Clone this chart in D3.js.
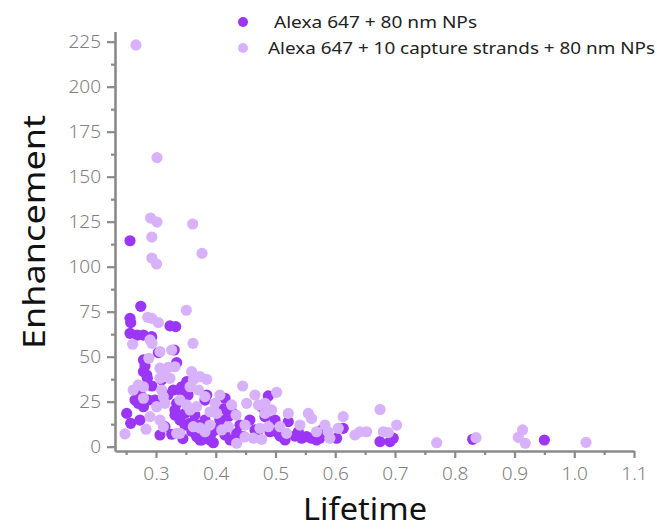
<!DOCTYPE html>
<html>
<head>
<meta charset="utf-8">
<script src="https://cdn.jsdelivr.net/npm/d3@7"></script>
<style>
  html, body { margin: 0; padding: 0; background: #fff; }
  svg { display: block; }
</style>
</head>
<body>
<div id="chart"></div>
<script>
// Fluorescence lifetime vs. enhancement for two sample preparations
const seriesNames = ["Alexa 647 + 80 nm NPs", "Alexa 647 + 10 capture strands + 80 nm NPs"];

const darkLifetime = [
  0.2565, 0.2745, 0.2565, 0.2577, 0.3234, 0.333, 0.2565, 0.2687, 0.279, 0.2928,
  0.304, 0.3305, 0.279, 0.2816, 0.3346, 0.2845, 0.279, 0.2855, 0.3095, 0.3513,
  0.343, 0.329, 0.3849, 0.4155, 0.2704, 0.276, 0.2649, 0.287, 0.2704, 0.279,
  0.3346, 0.3318, 0.251, 0.2577, 0.2732, 0.315, 0.3263, 0.34, 0.3485, 0.357,
  0.368, 0.3765, 0.396, 0.421, 0.435, 0.407, 0.3318, 0.3485, 0.365, 0.382,
  0.3988, 0.4155, 0.424, 0.3736, 0.3067, 0.3536, 0.3904, 0.407, 0.4406, 0.427,
  0.382, 0.37, 0.32, 0.34, 0.2983, 0.2933, 0.36, 0.392, 0.413, 0.345,
  0.488, 0.477, 0.4824, 0.4657, 0.4908, 0.446, 0.502, 0.5214, 0.516, 0.5382,
  0.5438, 0.552, 0.5603, 0.5687, 0.574, 0.6133, 0.6022, 0.6749, 0.6916, 0.697,
  0.83, 0.95, 0.457, 0.47, 0.5075, 0.4992, 0.5326, 0.578
];
const darkEnhancement = [
  114.4, 78, 71.3, 68.9, 67.1, 66.7, 63, 62, 62, 61.1,
  52.3, 53.7, 48.2, 44.8, 46.7, 39.8, 41.7, 38, 37.1, 36.1,
  33.3, 31.5, 28.7, 26.9, 30.6, 27.8, 25.9, 25.9, 24.1, 22.2,
  24.1, 17.6, 18.5, 13, 14.8, 11.1, 6.9, 14.8, 18.5, 13,
  5.6, 3.7, 2.2, 16.7, 7.4, 10.2, 20.4, 12, 17.6, 14.8,
  9.3, 6.5, 3.7, 3.7, 6.5, 28.7, 3.7, 14.8, 12, 19.3,
  25.9, 12, 28.7, 31.5, 25.9, 33.7, 8.5, 7, 21, 4.5,
  28.2, 22.2, 16.7, 9.3, 8.3, 5.6, 8.3, 13.9, 3.7, 8.3,
  4.7, 5.6, 4.7, 3.7, 4.7, 10.2, 4.7, 2.8, 2.8, 4.7,
  4.1, 3.7, 14.8, 8.2, 5.9, 14.8, 5.9, 9.3
];

const lightLifetime = [
  0.2665, 0.3017, 0.291, 0.3017, 0.3614, 0.293, 0.377, 0.293, 0.301, 0.3507,
  0.2861, 0.2928, 0.304, 0.2609, 0.29, 0.2933, 0.362, 0.3067, 0.3263, 0.288,
  0.3318, 0.3067, 0.3206, 0.3597, 0.3736, 0.3849, 0.3625, 0.2704, 0.279, 0.2619,
  0.3067, 0.315, 0.3234, 0.3095, 0.357, 0.371, 0.382, 0.279, 0.301, 0.315,
  0.351, 0.368, 0.3988, 0.407, 0.3904, 0.2481, 0.2833, 0.29, 0.3067, 0.3123,
  0.34, 0.3625, 0.382, 0.3904, 0.421, 0.4267, 0.445, 0.435, 0.449, 0.4016,
  0.3346, 0.3123, 0.34, 0.357, 0.3736, 0.41, 0.449, 0.434,
  0.4657, 0.502, 0.4518, 0.4715, 0.4824, 0.4936, 0.4824, 0.474, 0.488, 0.463,
  0.477, 0.5075, 0.5214, 0.5186, 0.541, 0.555, 0.5603, 0.5687, 0.5828, 0.588,
  0.591, 0.605, 0.6133, 0.633, 0.6414, 0.6525, 0.675, 0.6805, 0.6888, 0.7028,
  0.7698, 0.8356, 0.9064, 0.9135, 0.918, 1.0197
];
const lightEnhancement = [
  223.2, 160.6, 127, 124.8, 123.7, 116.5, 107.4, 104.8, 101.5, 75.8,
  71.9, 71.3, 68.9, 56.9, 59.3, 57.4, 57.4, 52.8, 53.7, 49.1,
  44.4, 43.6, 44.1, 41.7, 38.9, 37.4, 37.1, 34.3, 33.3, 31.5,
  38, 38.9, 38, 31.5, 33.3, 31.5, 27.8, 26.9, 22.2, 24.1,
  23.2, 22.2, 24.1, 28.7, 19.4, 7.1, 9.7, 16.7, 14.8, 11.1,
  7.4, 11.1, 8.3, 12, 11.1, 23.2, 33.7, 1.9, 12, 18.5,
  7.4, 27.8, 25.9, 20.4, 10.4, 9.3, 5.4, 17.6,
  28.7, 30.2, 24.1, 23.2, 24.1, 20.4, 18.5, 10.2, 11.1, 4.7,
  4.1, 11.1, 18.5, 7.4, 12, 18.5, 15.7, 8.3, 12, 8.3,
  4.7, 10.2, 16.7, 6.5, 8.3, 8.3, 20.7, 8.3, 7.8, 12,
  2.2, 5, 5.2, 9.3, 1.9, 2.4
];

const xTicks = [0.3, 0.4, 0.5, 0.6, 0.7, 0.8, 0.9, 1.0, 1.1];
const xMinorTicks = [0.25, 0.35, 0.45, 0.55, 0.65, 0.75, 0.85, 0.95, 1.05];
const yTicks = [0, 25, 50, 75, 100, 125, 150, 175, 200, 225];
const yMinorTicks = [12.5, 37.5, 62.5, 87.5, 112.5, 137.5, 162.5, 187.5, 212.5];

const colors = ["#9b36f7", "#d7b2fb"];

const W = 657, H = 530;
const svg = d3.select("#chart").append("svg").attr("width", W).attr("height", H);

const x = d3.scaleLinear().domain([0.2314, 1.1]).range([115, 634]);
const y = d3.scaleLinear().domain([-2.4, 230.6]).range([451, 31.6]);

const axisColor = "#8a8a8a";
const font = "'Noto Sans', 'Open Sans', sans-serif";

// points: first series underneath, second on top
const series = [
  { xs: darkLifetime, ys: darkEnhancement, color: colors[0] },
  { xs: lightLifetime, ys: lightEnhancement, color: colors[1] }
];
const plot = svg.append("g");
series.forEach(s => {
  const pts = s.xs.map((v, i) => [v, s.ys[i]]);
  plot.append("g").selectAll("circle").data(pts).join("circle")
    .attr("cx", d => x(d[0]))
    .attr("cy", d => y(d[1]))
    .attr("r", 5.6)
    .attr("fill", s.color);
});

// x axis
const xAxis = svg.append("g").attr("transform", `translate(0,${y.range()[0]})`);
xAxis.call(d3.axisBottom(x).tickValues(xTicks).tickSize(7).tickSizeOuter(0)
  .tickPadding(9).tickFormat(d3.format(".1f")));
const xMinor = svg.append("g").attr("transform", `translate(0,${y.range()[0]})`);
xMinor.call(d3.axisBottom(x).tickValues(xMinorTicks).tickSize(4).tickSizeOuter(0).tickFormat(""));
xMinor.select(".domain").remove();

// y axis
const yAxis = svg.append("g").attr("transform", `translate(${x.range()[0]},0)`);
yAxis.call(d3.axisLeft(y).tickValues(yTicks).tickSize(8).tickSizeOuter(0).tickPadding(6));
const yMinor = svg.append("g").attr("transform", `translate(${x.range()[0]},0)`);
yMinor.call(d3.axisLeft(y).tickValues(yMinorTicks).tickSize(4).tickSizeOuter(0).tickFormat(""));
yMinor.select(".domain").remove();

[xAxis, xMinor, yAxis, yMinor].forEach(g => {
  g.selectAll(".domain").attr("stroke", axisColor).attr("stroke-width", 2.6);
  g.selectAll(".tick line").attr("stroke", axisColor).attr("stroke-width", 2.2);
  g.selectAll(".tick text").attr("fill", "#808080")
    .style("font-family", font).style("font-size", "19px").style("font-weight", 300);
});

// axis titles
svg.append("text")
  .attr("x", 365).attr("y", 520)
  .attr("text-anchor", "middle")
  .attr("textLength", 124).attr("lengthAdjust", "spacingAndGlyphs")
  .style("font-family", font).style("font-size", "30px").attr("fill", "#111")
  .text("Lifetime");
svg.append("text")
  .attr("transform", "translate(45,232) rotate(-90)")
  .attr("text-anchor", "middle")
  .attr("textLength", 234).attr("lengthAdjust", "spacingAndGlyphs")
  .style("font-family", font).style("font-size", "31px").attr("fill", "#111")
  .text("Enhancement");

// legend
const legend = svg.append("g");
const legendRows = [
  { label: seriesNames[0], color: colors[0], cy: 22, tx: 274, len: 203 },
  { label: seriesNames[1], color: colors[1], cy: 48, tx: 268, len: 387 }
];
legendRows.forEach(r => {
  legend.append("circle").attr("cx", 243).attr("cy", r.cy).attr("r", 5).attr("fill", r.color);
  legend.append("text")
    .attr("x", r.tx).attr("y", r.cy + 5.5)
    .attr("textLength", r.len).attr("lengthAdjust", "spacingAndGlyphs")
    .style("font-family", font).style("font-size", "16px").attr("fill", "#222")
    .text(r.label);
});
</script>
</body>
</html>
